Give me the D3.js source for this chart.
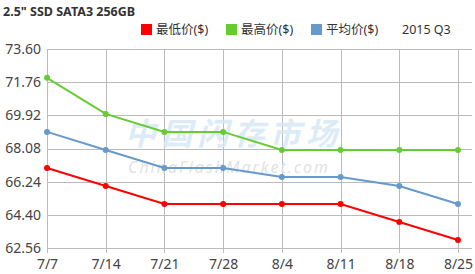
<!DOCTYPE html>
<html>
<head>
<meta charset="utf-8">
<script src="https://cdn.jsdelivr.net/npm/d3@7"></script>
<style>
  body { margin: 0; background: #fff; }
  svg { display: block; font-family: "Noto Sans", "Noto Sans CJK SC", sans-serif; }
</style>
</head>
<body>
<div id="chart"></div>
<script>
// données du graphique
const dates = ["7/7", "7/14", "7/21", "7/28", "8/4", "8/11", "8/18", "8/25"];
const minPrice = [67, 66, 65, 65, 65, 65, 64, 63];
const maxPrice = [72, 70, 69, 69, 68, 68, 68, 68];
const avgPrice = [69, 68, 67, 67, 66.5, 66.5, 66, 65];
const yTicks = [62.56, 64.40, 66.24, 68.08, 69.92, 71.76, 73.60];
const seriesNames = ["最低价($)", "最高价($)", "平均价($)"];
const seriesColors = ["#ff0000", "#66cc33", "#6699cc"];

const width = 475, height = 274;
const plotLeft = 47, plotRight = 458, plotTop = 49, plotBottom = 248;

const svg = d3.select("#chart").append("svg")
  .attr("width", width)
  .attr("height", height);

// échelles
const x = d3.scalePoint().domain(dates).range([plotLeft, plotRight]);
const y = d3.scaleLinear().domain([62.56, 73.60]).range([plotBottom, plotTop]);

// titre
svg.append("text")
  .attr("x", 3).attr("y", 16)
  .attr("font-size", 12.5).attr("font-weight", "bold")
  .attr("fill", "#333")
  .text('2.5" SSD SATA3 256GB');

// légende
const legendX = [141, 226, 311];
seriesNames.forEach(function(name, i) {
  svg.append("rect")
    .attr("x", legendX[i]).attr("y", 24)
    .attr("width", 11).attr("height", 11)
    .attr("fill", seriesColors[i]);
  svg.append("text")
    .attr("x", legendX[i] + 15).attr("y", 34)
    .attr("font-size", 12.5).attr("fill", "#333")
    .text(name);
});
svg.append("text")
  .attr("x", 402).attr("y", 34)
  .attr("font-size", 12.5).attr("fill", "#333")
  .text("2015 Q3");

// grille horizontale
svg.append("g")
  .selectAll("line")
  .data(yTicks)
  .enter().append("line")
  .attr("x1", plotLeft).attr("x2", plotRight + 14)
  .attr("y1", d => Math.round(y(d)) + 0.5)
  .attr("y2", d => Math.round(y(d)) + 0.5)
  .attr("stroke", "#bbb");

// grille verticale
svg.append("g")
  .selectAll("line")
  .data(dates)
  .enter().append("line")
  .attr("x1", d => Math.round(x(d)) + 0.5)
  .attr("x2", d => Math.round(x(d)) + 0.5)
  .attr("y1", plotTop).attr("y2", plotBottom + 5)
  .attr("stroke", "#bbb");

// filigrane
svg.append("text")
  .attr("x", 125).attr("y", 145)
  .attr("font-size", 31).attr("font-style", "italic").attr("font-weight", "bold")
  .attr("textLength", 212).attr("lengthAdjust", "spacing")
  .attr("fill", "#d4e7f3").attr("opacity", 0.8)
  .text("中国闪存市场");
svg.append("text")
  .attr("x", 128).attr("y", 173)
  .attr("font-size", 16).attr("font-style", "italic")
  .attr("textLength", 200).attr("lengthAdjust", "spacing")
  .attr("fill", "#e2e2e2")
  .text("ChinaFlashMarket.com");

// axe y
const yAxis = d3.axisLeft(y).tickValues(yTicks).tickFormat(d3.format(".2f")).tickSize(0).tickPadding(6);
const gy = svg.append("g").attr("transform", `translate(${plotLeft},0)`).call(yAxis);
gy.select(".domain").remove();
gy.selectAll("text").attr("font-size", 14).attr("fill", "#444").attr("font-family", "Noto Sans, sans-serif");

// axe x
const xAxis = d3.axisBottom(x).tickSize(0).tickPadding(11);
const gx = svg.append("g").attr("transform", `translate(0,${plotBottom})`).call(xAxis);
gx.select(".domain").remove();
gx.selectAll("text").attr("font-size", 14).attr("fill", "#444").attr("font-family", "Noto Sans, sans-serif");

// séries
const allSeries = [minPrice, maxPrice, avgPrice];
const line = d3.line().x((d, i) => x(dates[i])).y(d => y(d));

[1, 2, 0].forEach(function(k) {
  svg.append("path")
    .datum(allSeries[k])
    .attr("d", line)
    .attr("fill", "none")
    .attr("stroke", seriesColors[k])
    .attr("stroke-width", 2);
  svg.append("g")
    .selectAll("circle")
    .data(allSeries[k])
    .enter().append("circle")
    .attr("cx", (d, i) => x(dates[i]))
    .attr("cy", d => y(d))
    .attr("r", 3)
    .attr("fill", seriesColors[k]);
});
</script>
</body>
</html>
